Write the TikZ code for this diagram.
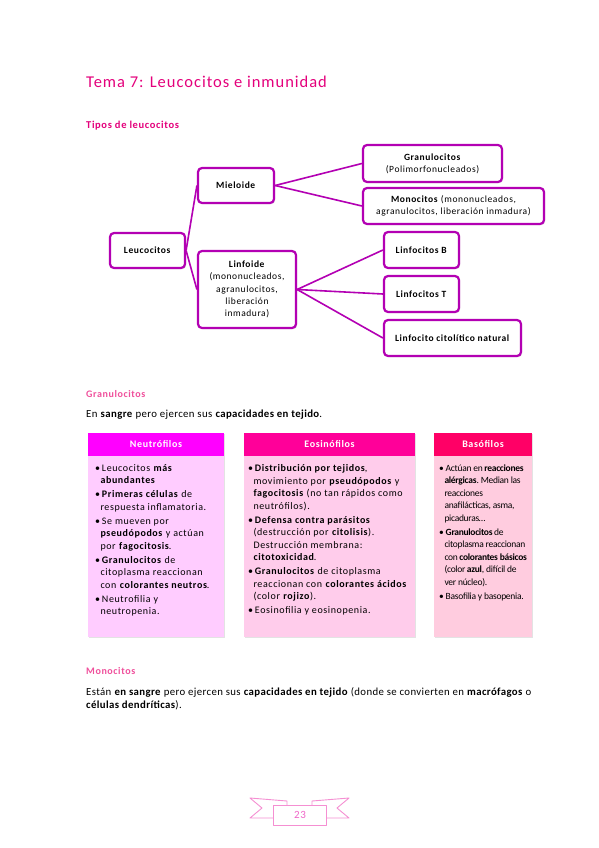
\documentclass[tikz,border=0pt]{standalone}
\usepackage{fontspec}
\setmainfont{Carlito}[LetterSpace=6]
\newfontfamily\basfont{Carlito}[LetterSpace=-3]
\newfontfamily\parafont{Carlito}[LetterSpace=3.5]
\usepackage{enumitem}
\usepackage{xcolor}
\definecolor{titlepink}{HTML}{E4007C}
\definecolor{subpink}{HTML}{F0509C}
\definecolor{treeline}{HTML}{B300B3}
\definecolor{neuhead}{HTML}{FF00FF}
\definecolor{neubody}{HTML}{FFCCFF}
\definecolor{eoshead}{HTML}{FF0099}
\definecolor{eosbody}{HTML}{FFCCEB}
\definecolor{bashead}{HTML}{FF0066}
\definecolor{basbody}{HTML}{FFCCDF}
\definecolor{ribbonpink}{HTML}{F58FD2}
\definecolor{numpink}{HTML}{F066C8}
\usetikzlibrary{shadows}
\newlist{cellitems}{itemize}{1}
\setlist[cellitems]{label=\textbullet,leftmargin=5.5pt,labelwidth=3.5pt,labelsep=2pt,
  align=left,itemsep=1.5pt,topsep=0pt,parsep=0pt,partopsep=0pt,
  before={\raggedright\hyphenpenalty=10000\relax\vspace*{4.5pt}}}
\tikzset{
  softshadow/.style = {drop shadow={opacity=0.22,shadow xshift=1.2pt,shadow yshift=-1.2pt}},
  title/.style    = {anchor=base west,inner sep=0pt,text=titlepink,
                     font=\fontsize{16.5}{20}\selectfont},
  sechead/.style  = {anchor=base west,inner sep=0pt,text=titlepink,
                     font=\bfseries\fontsize{10.5}{12}\selectfont},
  subhead/.style  = {anchor=base west,inner sep=0pt,text=subpink,
                     font=\bfseries\fontsize{10}{12}\selectfont},
  para/.style     = {anchor=base west,inner sep=0pt,font=\parafont\fontsize{10.8}{12.8}\selectfont},
  tree/.style     = {draw=treeline,line width=2.2pt,rounded corners=4pt,fill=white,
                     align=center,inner sep=2pt,font=\fontsize{9.5}{12.2}\selectfont,softshadow},
  link/.style     = {draw=treeline,line width=1.6pt},
  cellhead/.style = {minimum height=23pt,inner sep=0pt,text=white,
                     font=\bfseries\fontsize{10}{12}\selectfont,softshadow},
  cellbody/.style = {inner ysep=4pt,font=\fontsize{10}{12.5}\selectfont,softshadow},
  ribbon/.style   = {draw=ribbonpink,line width=0.9pt,line join=round},
}
\begin{document}
\begin{tikzpicture}[x=1pt,y=-1pt]
  \fill[white] (0,0) rectangle (599,848);
  \useasboundingbox (0,0) rectangle (599,848);

  \node[title] (ttl) at (86,87.5) {Tema 7: Leucocitos e inmunidad};
  \node[sechead] (tipos) at (86,128.5) {Tipos de leucocitos};

  % Tree of leucocyte types
  \node[tree,minimum width=75pt,minimum height=35pt] (leuc) at (147.5,250.5) {\textbf{Leucocitos}};
  \node[tree,minimum width=76pt,minimum height=35pt] (mie) at (236,185.5) {\textbf{Mieloide}};
  \node[tree,minimum width=98pt,minimum height=77pt] (linf) at (247,289.5)
    {\textbf{Linfoide}\\(mononucleados,\\agranulocitos,\\liberación\\inmadura)};
  \node[tree,minimum width=139pt,minimum height=37pt] (gran) at (432.5,163.5)
    {\textbf{Granulocitos}\\(Polimorfonucleados)};
  \node[tree,minimum width=181pt,minimum height=36pt] (mono) at (453.5,206)
    {\textbf{Monocitos} (mononucleados,\\agranulocitos, liberación inmadura)};
  \node[tree,minimum width=75pt,minimum height=36pt] (linfB) at (421.5,250) {\textbf{Linfocitos B}};
  \node[tree,minimum width=75pt,minimum height=36pt] (linfT) at (421.5,294) {\textbf{Linfocitos T}};
  \node[tree,minimum width=137pt,minimum height=36pt] (linfC) at (452.5,338)
    {\textbf{Linfocito citolítico natural}};

  \foreach \c in {mie,linf}
    \draw[link] (leuc.east) -- (\c.west);
  \foreach \c in {gran,mono}
    \draw[link] (mie.east) -- (\c.west);
  \foreach \c in {linfB,linfT,linfC}
    \draw[link] (linf.east) -- (\c.west);

  \node[subhead] (granhd) at (86,397) {Granulocitos};
  \node[para] (grantx) at (86,417)
    {En \textbf{sangre} pero ejercen sus \textbf{capacidades en tejido}.};

  % Three granulocyte columns
  \node[cellhead,fill=neuhead,minimum width=136pt] (neuH) at (156,444.5) {Neutrófilos};
  \node[cellhead,fill=eoshead,minimum width=171pt] (eosH) at (329.5,444.5) {Eosinófilos};
  \node[cellhead,fill=bashead,minimum width=98pt] (basH) at (483,444.5) {Basófilos};

  \node[cellbody,fill=neubody,inner xsep=7pt] (neuB) at (156,546.5)
    {\begin{minipage}[t][173pt][t]{122pt}\begin{cellitems}
      \item Leucocitos \textbf{más}\\\textbf{abundantes}
      \item \textbf{Primeras células} de\\respuesta inflamatoria.
      \item Se mueven por\\\textbf{pseudópodos} y actúan\\por \textbf{fagocitosis}.
      \item \textbf{Granulocitos} de\\citoplasma reaccionan\\con \textbf{colorantes neutros}.
      \item Neutrofilia y\\neutropenia.
    \end{cellitems}\end{minipage}};
  \node[cellbody,fill=eosbody,inner xsep=4pt] (eosB) at (329.5,546.5)
    {\begin{minipage}[t][173pt][t]{163pt}\begin{cellitems}
      \item \textbf{Distribución por tejidos},\\movimiento por \textbf{pseudópodos} y\\\textbf{fagocitosis} (no tan rápidos como\\neutrófilos).
      \item \textbf{Defensa contra parásitos}\\(destrucción por \textbf{citolisis}).\\Destrucción membrana:\\\textbf{citotoxicidad}.
      \item \textbf{Granulocitos} de citoplasma\\reaccionan con \textbf{colorantes ácidos}\\(color \textbf{rojizo}).
      \item Eosinofilia y eosinopenia.
    \end{cellitems}\end{minipage}};
  \node[cellbody,fill=basbody,inner xsep=5pt] (basB) at (483,546.5)
    {\begin{minipage}[t][173pt][t]{88pt}\basfont\fontsize{9.5}{12.5}\selectfont
      \begin{cellitems}
      \item Actúan~en~\textbf{reacciones}\\\textbf{alérgicas}.~Median~las\\reacciones\\anafilácticas,~asma,\\picaduras…
      \item \textbf{Granulocitos} de\\citoplasma~reaccionan\\con~\textbf{colorantes~básicos}\\(color~\textbf{azul},~difícil~de\\ver núcleo).
      \item Basofilia~y~basopenia.
    \end{cellitems}\end{minipage}};

  \node[subhead] (monohd) at (86,674) {Monocitos};
  \node[para] (monotx) at (86,695.5)
    {\begin{minipage}[t]{470pt}\raggedright Están \textbf{en sangre} pero ejercen sus \textbf{capacidades en tejido} (donde se convierten en \textbf{macrófagos} o\\\textbf{células dendríticas}).\end{minipage}};

  % Page number ribbon
  \draw[ribbon] (273,818) -- (250,818) -- (262,808) -- (250,798) -- (287,801) -- (287,805);
  \draw[ribbon] (326,818) -- (349,818) -- (337,808) -- (349,798) -- (312,801) -- (312,805);
  \draw[ribbon,fill=white] (273,805) rectangle (326,825);
  \node[text=numpink,inner sep=0pt,font=\fontsize{11}{12}\selectfont] (pnum) at (300,815) {23};
\end{tikzpicture}
\end{document}
